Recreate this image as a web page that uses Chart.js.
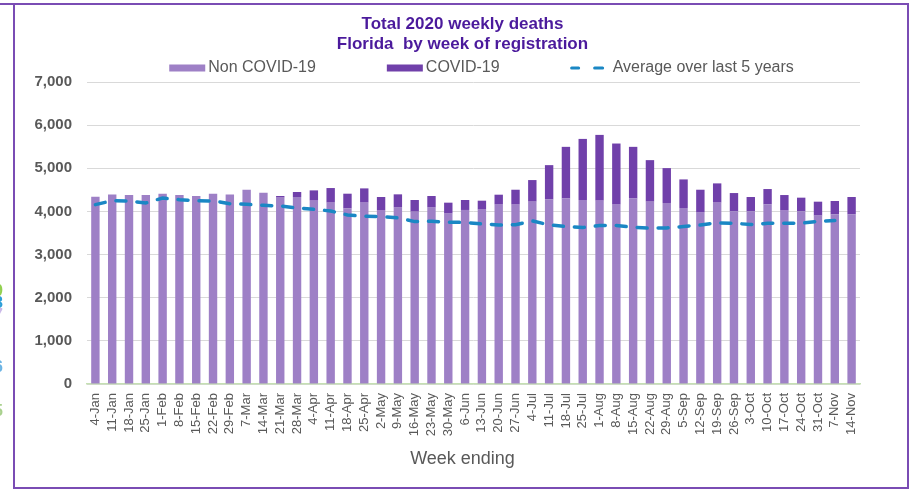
<!DOCTYPE html>
<html>
<head>
<meta charset="utf-8">
<script src="https://cdn.jsdelivr.net/npm/chart.js@4"></script>
<style>
  body { margin: 0; background: #fff; }
  #wrap { position: relative; width: 919px; height: 489px; overflow: hidden; }
  #frame { position: absolute; left: 13px; top: 3px; width: 892px; height: 482px; border: 2px solid #7a4cb4; pointer-events: none; }
  #frameTop { position: absolute; left: 0; top: 3px; width: 15px; height: 2px; background: #7a4cb4; }
  .cut { position: absolute; left: -6px; font: bold 16px "Liberation Sans", Arial, sans-serif; }
</style>
</head>
<body>
<div id="wrap">
  <canvas id="chart" width="919" height="489"></canvas>
  <div id="frameTop"></div>
  <div id="frame"></div>
  <span class="cut" style="top:282px;color:#92d050">9</span>
  <span class="cut" style="top:294px;color:#2e9fd8">8</span>
  <span class="cut" style="top:306px;color:#c9b8e8">7</span>
  <span class="cut" style="top:358px;color:#6cb4e4">6</span>
  <span class="cut" style="top:402px;color:#a9d18e">5</span>
</div>
<script>
// semaines (fin de semaine)
const weeks = ['4-Jan','11-Jan','18-Jan','25-Jan','1-Feb','8-Feb','15-Feb','22-Feb','29-Feb',
  '7-Mar','14-Mar','21-Mar','28-Mar','4-Apr','11-Apr','18-Apr','25-Apr','2-May','9-May',
  '16-May','23-May','30-May','6-Jun','13-Jun','20-Jun','27-Jun','4-Jul','11-Jul','18-Jul',
  '25-Jul','1-Aug','8-Aug','15-Aug','22-Aug','29-Aug','5-Sep','12-Sep','19-Sep','26-Sep',
  '3-Oct','10-Oct','17-Oct','24-Oct','31-Oct','7-Nov','14-Nov']

const nonCovid = [4342,4395,4380,4380,4411,4380,4357,4411,4395,4503,4434,4319,4334,4249,4203,
  4072,4203,4018,4088,3995,4088,3949,4034,4041,4157,4157,4226,4280,4303,4265,4249,4157,4303,
  4226,4196,4080,3972,4203,4003,4003,4165,4018,4003,3903,3933,3933]

const covid = [0,0,0,0,0,0,0,0,0,0,0,38,116,239,339,339,331,316,308,270,269,254,231,208,231,
  346,501,793,1194,1416,1525,1417,1194,963,808,662,531,447,423,331,354,362,316,323,309,401]

const avg5y = [4157,4249,4240,4196,4311,4272,4250,4242,4180,4164,4141,4126,4080,4049,4010,3918,
  3887,3880,3849,3764,3772,3749,3745,3711,3687,3690,3780,3687,3649,3626,3672,3672,3634,3610,
  3618,3649,3687,3733,3726,3695,3726,3726,3726,3772,3788,null]

const yTicks = [0,1000,2000,3000,4000,5000,6000,7000]

const titleLines = ['Total 2020 weekly deaths', 'Florida  by week of registration']
const xTitle = 'Week ending'

const grey = '#595959'
Chart.defaults.font.family = '"Liberation Sans", Arial, sans-serif'

// titre, legende et titre de l'axe X dessines a la main pour garder la mise en page d'Excel
const headerPlugin = {
  id: 'excelHeader',
  afterDraw(chart) {
    const ctx = chart.ctx
    const area = chart.chartArea
    const cx = (area.left + area.right) / 2
    ctx.save()

    ctx.fillStyle = '#4b1a9c'
    ctx.font = 'bold 17px "Liberation Sans", Arial, sans-serif'
    ctx.textAlign = 'center'
    ctx.textBaseline = 'middle'
    titleLines.forEach((t, i) => ctx.fillText(t, cx - 11, 24 + i * 20))

    ctx.fillStyle = grey
    ctx.font = '18px "Liberation Sans", Arial, sans-serif'
    ctx.fillText(xTitle, cx - 11, area.bottom + 75)

    const y = 68
    ctx.textAlign = 'left'
    ctx.font = '16px "Liberation Sans", Arial, sans-serif'
    const items = chart.data.datasets.map(ds => ({
      text: ds.label, type: ds.type || 'bar', color: ds.type === 'line' ? ds.borderColor : ds.backgroundColor,
      w: (ds.type === 'line' ? 33 + 9 : 36 + 3) + ctx.measureText(ds.label).width
    }))
    const gap = 71
    const total = items.reduce((s, it) => s + it.w, 0) + gap * (items.length - 1)
    let x = cx + 8 - total / 2
    items.forEach(it => {
      if (it.type === 'line') {
        ctx.strokeStyle = it.color
        ctx.lineWidth = 3
        ctx.lineCap = 'round'
        ctx.beginPath()
        ctx.moveTo(x + 1, y); ctx.lineTo(x + 8, y)
        ctx.moveTo(x + 24, y); ctx.lineTo(x + 32, y)
        ctx.stroke()
        ctx.fillStyle = grey
        ctx.fillText(it.text, x + 42, y)
      } else {
        ctx.fillStyle = it.color
        ctx.fillRect(x, y - 3.5, 36, 7)
        ctx.fillStyle = grey
        ctx.fillText(it.text, x + 39, y)
      }
      x += it.w + gap
    })
    ctx.restore()
  }
}

const chart = new Chart(document.getElementById('chart'), {
  type: 'bar',
  data: {
    labels: weeks,
    datasets: [
      { label: 'Non COVID-19', data: nonCovid, backgroundColor: '#9e80c6', stack: 'deaths', order: 1,
        barPercentage: 0.5, categoryPercentage: 1.0 },
      { label: 'COVID-19', data: covid, backgroundColor: '#7040aa', stack: 'deaths', order: 1,
        barPercentage: 0.5, categoryPercentage: 1.0 },
      { label: 'Average over last 5 years', type: 'line', data: avg5y, borderColor: '#1a87c4',
        borderWidth: 3.5, borderDash: [10, 11], borderCapStyle: 'round', pointRadius: 0,
        fill: false, tension: 0, stack: 'avg', order: 0 }
    ]
  },
  options: {
    responsive: false,
    animation: false,
    layout: { padding: { top: 82, left: 20, right: 59, bottom: 6 } },
    plugins: {
      legend: { display: false },
      tooltip: { enabled: false },
      title: { display: false }
    },
    scales: {
      x: {
        stacked: true,
        grid: { display: false, drawTicks: false },
        border: { display: true, color: '#c5e0b3', width: 1.5 },
        ticks: { color: grey, font: { size: 13 }, minRotation: 90, maxRotation: 90, autoSkip: false, padding: 9 },
        afterFit: s => { s.height = 99 }
      },
      y: {
        stacked: true,
        min: 0,
        max: 7000,
        afterBuildTicks: s => { s.ticks = yTicks.map(v => ({ value: v })) },
        grid: { color: '#d9d9d9', drawTicks: false },
        border: { display: false },
        ticks: { color: grey, font: { size: 15, weight: 'bold' }, padding: 15,
          callback: v => v.toLocaleString('en-US') },
        afterFit: s => { s.width = 67 }
      }
    }
  },
  plugins: [headerPlugin]
})
</script>
</body>
</html>
